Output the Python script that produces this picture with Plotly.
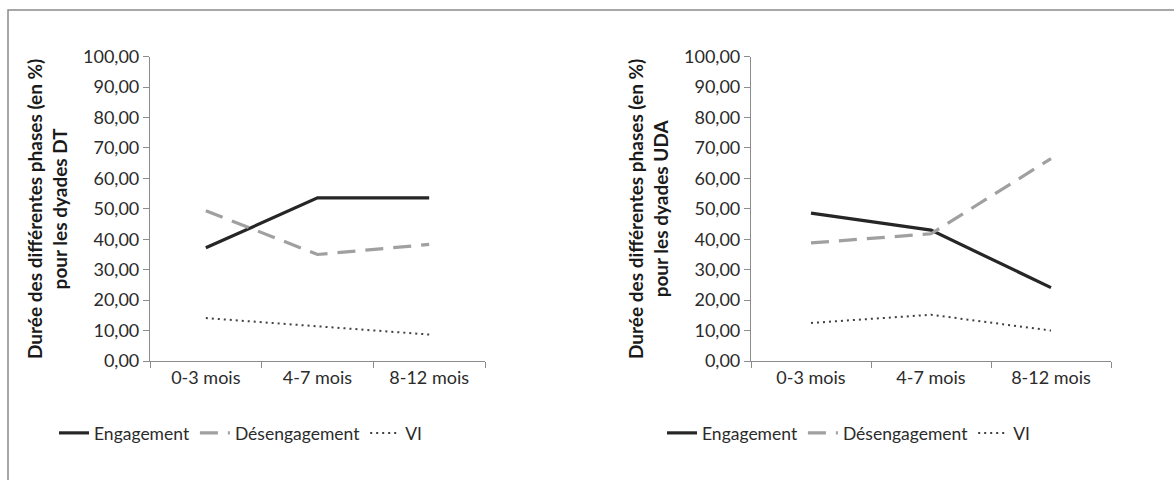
import plotly.graph_objects as go

W, H = 1174, 480

categories = ["0-3 mois", "4-7 mois", "8-12 mois"]
engagement_dt = [37.2, 53.6, 53.6]
desengagement_dt = [49.4, 35.0, 38.3]
vi_dt = [14.1, 11.3, 8.7]
engagement_uda = [48.6, 43.0, 24.1]
desengagement_uda = [38.8, 41.8, 66.5]
vi_uda = [12.5, 15.2, 10.0]
y_tickvals = [0, 10, 20, 30, 40, 50, 60, 70, 80, 90, 100]
y_ticktext = ["0,00", "10,00", "20,00", "30,00", "40,00", "50,00", "60,00", "70,00", "80,00", "90,00", "100,00"]
series_names = ["Engagement", "Désengagement", "VI"]
ytitle_dt = "Durée des différentes phases (en %)<br>pour les dyades DT"
ytitle_uda = "Durée des différentes phases (en %)<br>pour les dyades UDA"

FONT = "Lato, sans-serif"
TXT = "#2b2b2b"
styles = [
    dict(color="#262626", width=3.2, dash="solid"),
    dict(color="#a0a0a0", width=3.2, dash="18px,10px"),
    dict(color="#404040", width=2, dash="2px,4px"),
]

fig = go.Figure()
for vals, st, nm in zip([engagement_dt, desengagement_dt, vi_dt], styles, series_names):
    fig.add_trace(go.Scatter(x=categories, y=vals, mode="lines", name=nm, line=st,
                             xaxis="x", yaxis="y", legend="legend"))
for vals, st, nm in zip([engagement_uda, desengagement_uda, vi_uda], styles, series_names):
    fig.add_trace(go.Scatter(x=categories, y=vals, mode="lines", name=nm, line=st,
                             xaxis="x2", yaxis="y2", legend="legend2"))

def px_x(p):
    return p / W

def px_y(p):
    return 1 - p / H

ydom = [px_y(361), px_y(56.7)]
axis_common = dict(showline=True, linecolor="#8c8c8c", linewidth=1.2, showgrid=False,
                   zeroline=False, ticks="outside", ticklen=6, tickcolor="#8c8c8c",
                   automargin=False,
                   tickfont=dict(family=FONT, size=18, color=TXT))
xcommon = dict(axis_common, type="category", range=[-0.5, 2.5], tickson="boundaries")
ycommon = dict(axis_common, range=[0, 100], tickvals=y_tickvals, ticktext=y_ticktext,
               tickfont=dict(family=FONT, size=18, color=TXT))
tfont = dict(family=FONT, size=19, color="#1a1a1a", weight="bold")

fig.update_layout(
    width=W, height=H,
    margin=dict(l=0, r=0, t=0, b=0, autoexpand=False),
    paper_bgcolor="white", plot_bgcolor="white",
    font=dict(family=FONT, color=TXT),
    xaxis=dict(xcommon, domain=[px_x(150), px_x(485)], anchor="y"),
    yaxis=dict(ycommon, domain=ydom, anchor="x",
               title=dict(text=ytitle_dt, font=tfont, standoff=10)),
    xaxis2=dict(xcommon, domain=[px_x(751), px_x(1111)], anchor="y2"),
    yaxis2=dict(ycommon, domain=ydom, anchor="x2",
                title=dict(text=ytitle_uda, font=tfont, standoff=10)),
    legend=dict(orientation="h", x=px_x(54), y=px_y(433), xanchor="left", yanchor="middle",
                font=dict(family=FONT, size=17.5, color=TXT), bgcolor="rgba(0,0,0,0)"),
    legend2=dict(orientation="h", x=px_x(662), y=px_y(433), xanchor="left", yanchor="middle",
                 font=dict(family=FONT, size=17.5, color=TXT), bgcolor="rgba(0,0,0,0)"),
    shapes=[dict(type="rect", xref="paper", yref="paper", x0=px_x(8), y0=px_y(490),
                 x1=px_x(1190), y1=px_y(10), line=dict(color="#8a8a8a", width=1.5),
                 fillcolor="rgba(0,0,0,0)", layer="below")],
    showlegend=True,
)

fig.write_html("out.html", config={"displayModeBar": False},
               post_script="document.body.style.margin='0';")
